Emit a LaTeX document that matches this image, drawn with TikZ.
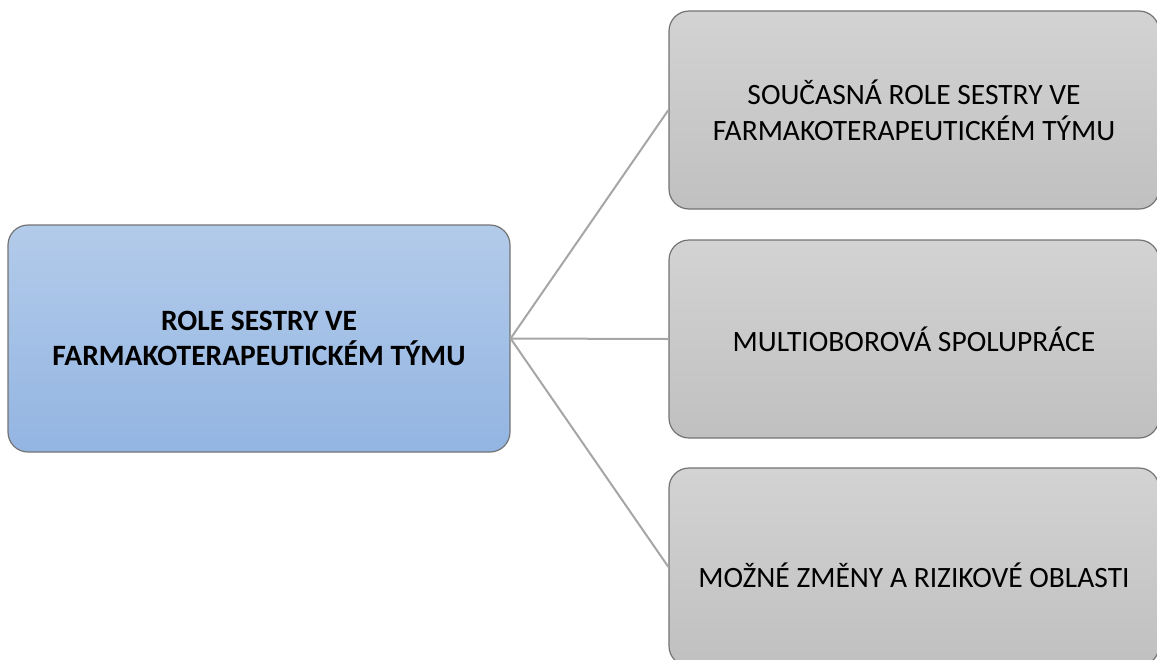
\documentclass[tikz,border=0pt]{standalone}
\usepackage{fontspec}
\setmainfont{Carlito}
\begin{document}
\begin{tikzpicture}[x=1pt,y=-1pt,
  box/.style={rounded corners=20pt, draw=black!55, line width=1.2pt, align=center, inner sep=0pt, font=\fontsize{29.5}{36}\selectfont},
  mainbox/.style={box, top color=mainTop, bottom color=mainBot, font=\fontsize{29.5}{35}\selectfont\bfseries},
  subbox/.style={box, top color=subTop, bottom color=subBot},
  link/.style={draw=linkgray, line width=2pt}
]
\definecolor{mainTop}{HTML}{B3CBEA}
\definecolor{mainBot}{HTML}{93B5E2}
\definecolor{subTop}{HTML}{D3D3D3}
\definecolor{subBot}{HTML}{C0C0C0}
\definecolor{linkgray}{HTML}{A6A6A6}
\useasboundingbox (0,0) rectangle (1157,659);
\node[mainbox, minimum width=502pt, minimum height=227pt] (main) at (259,338.5)
  {ROLE SESTRY VE\\FARMAKOTERAPEUTICKÉM TÝMU};
\node[subbox, minimum width=490pt, minimum height=198pt] (s1) at (914,110)
  {SOUČASNÁ ROLE SESTRY VE\\FARMAKOTERAPEUTICKÉM TÝMU};
\node[subbox, minimum width=490pt, minimum height=198pt] (s2) at (914,339)
  {MULTIOBOROVÁ SPOLUPRÁCE};
\node[subbox, minimum width=490pt, minimum height=198pt] (s3) at (914,567)
  {\raisebox{-8pt}[\height][\depth]{MOŽNÉ ZMĚNY A RIZIKOVÉ OBLASTI}};
\draw[link] (main.east) -- (s1.west);
\draw[link] (main.east) -- (s2.west);
\draw[link] (main.east) -- (s3.west);
\end{tikzpicture}
\end{document}
